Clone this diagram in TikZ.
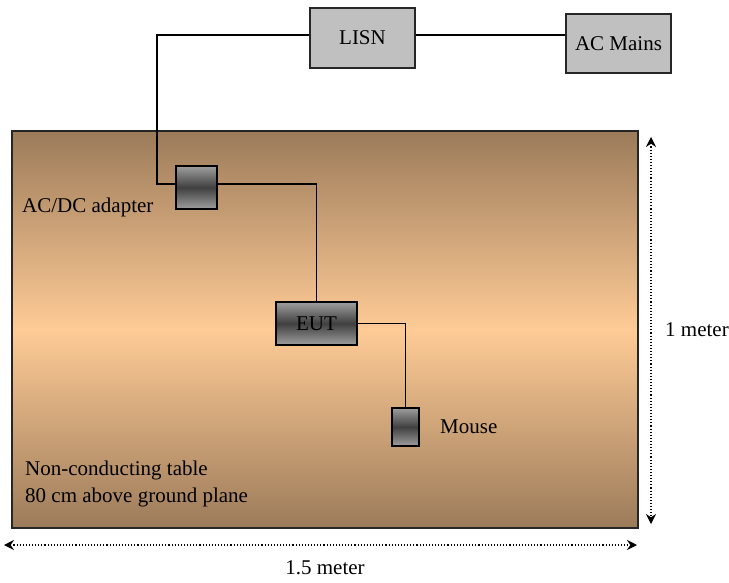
\documentclass[tikz,border=0pt]{standalone}
\usepackage{fontspec}
\setmainfont{Liberation Serif}
\usetikzlibrary{arrows.meta}
\definecolor{tabbrown}{HTML}{9C7B5A}
\definecolor{tabpeach}{HTML}{FECB96}
\definecolor{boxgray}{HTML}{C0C0C0}
\begin{document}
\begin{tikzpicture}[x=1pt,y=-1pt,
  every node/.style={font=\fontsize{21}{24}\selectfont},
  graybox/.style={draw=black!85, line width=1.6pt, fill=boxgray, minimum width=105pt, minimum height=60pt, inner sep=0pt},
  devbox/.style={draw=black, line width=1.6pt, top color=black!38, bottom color=black!38, middle color=black!75, inner sep=0pt},
  wire/.style={line width=1.7pt, black},
  dim/.style={dotted, line width=1.1pt, {Stealth[length=10pt,width=10pt]}-{Stealth[length=10pt,width=10pt]}},
  lbl/.style={anchor=west, inner sep=0pt}]
\useasboundingbox (0,0) rectangle (729,582);
% table
\fill[top color=tabbrown, bottom color=tabbrown, middle color=tabpeach] (12,131) rectangle (638,528);
\draw[line width=1.9pt, black!85] (12,131) rectangle (638,528);
% boxes
\node[graybox] (lisn) at (362.5,38) {LISN};
\node[graybox, minimum height=59pt] (mains) at (618.5,43.5) {AC Mains};
\node[devbox, minimum width=41pt, minimum height=43pt] (adapter) at (196.5,187.5) {};
\node[devbox, minimum width=81pt, minimum height=43pt] (eut) at (316.5,323.5) {EUT};
\node[devbox, minimum width=27pt, minimum height=38pt] (mouse) at (405.5,427) {};
% wires
\coordinate (c0) at (157,35);
\coordinate (c1) at (157,184);
\draw[wire] ([yshift=3pt]lisn.west) -- (c0) -- (c1) -- (c1 -| adapter.west);
\draw[wire] ([yshift=3pt]lisn.east) -- ([yshift=3pt]lisn.east -| mains.west);
\draw[wire] ([yshift=3.5pt]adapter.east) -| (eut.north);
\draw[wire] (eut.east) -| (mouse.north);
% labels
\node[lbl] (lad) at (22,207) {AC/DC adapter};
\node[lbl] (lmouse) at (440,427) {Mouse};
\node[lbl] (lt1) at (25,470) {Non-conducting table};
\node[lbl] (lt2) at (25,497) {80 cm above ground plane};
% dimensions
\coordinate (v1) at (651,137);
\coordinate (v2) at (651,524);
\coordinate (h1) at (4,545);
\coordinate (h2) at (637,545);
\draw[dim] (v1) -- (v2);
\draw[dim] (h1) -- (h2);
\node (lm) at (697,330) {1 meter};
\node (lm2) at (325,568) {1.5 meter};
\end{tikzpicture}
\end{document}
